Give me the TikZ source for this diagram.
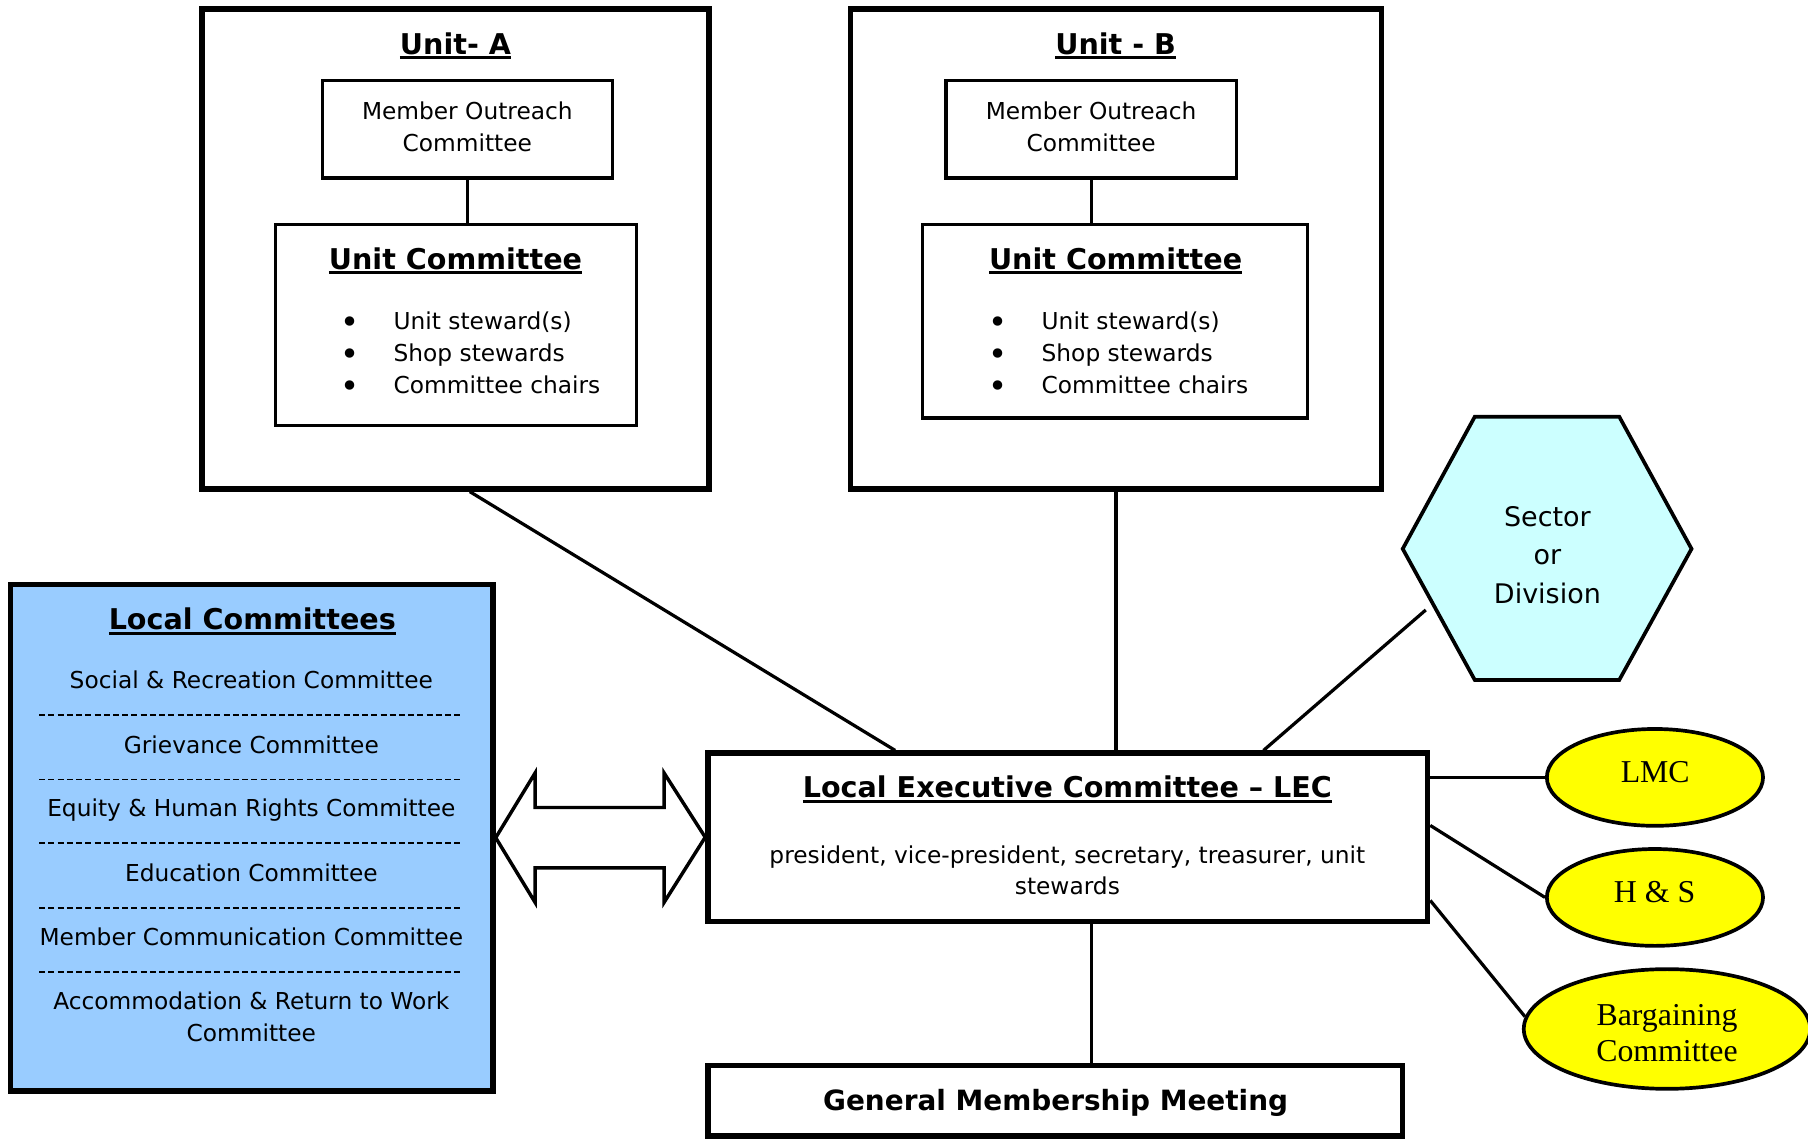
\documentclass[tikz,border=0pt]{standalone}
\usepackage{fontspec}
\setmainfont{DejaVu Sans}
\newfontfamily\timesf{Liberation Serif}
\usetikzlibrary{calc,shapes.geometric}
\definecolor{lcblue}{HTML}{99CCFF}
\definecolor{hexcyan}{HTML}{CCFFFF}
\definecolor{elyellow}{HTML}{FFFF00}
\newcommand\bodyf{\fontsize{10.1}{12}\selectfont}
\newcommand\ttlf{\fontsize{12.4}{15}\selectfont\bfseries}
\newcommand\hexf{\fontsize{11.7}{14}\selectfont}
\newcommand\elf{\timesf\fontsize{13.8}{16}\selectfont}
\newcommand\myul[1]{\setbox0\hbox{#1}\rlap{\rule[-2.1pt]{\wd0}{1.4pt}}\box0}
\begin{document}
\begin{tikzpicture}[x=0.5pt,y=-0.5pt,
  outer/.style={draw, line width=2.4pt, inner sep=0pt},
  inner/.style={draw, line width=1.4pt, inner sep=0pt},
  conn/.style={line width=1.4pt},
  txt/.style={inner sep=0pt, anchor=base, font=\bodyf},
  bul/.style={inner sep=0pt, anchor=base, font=\fontsize{14}{14}\selectfont},
  ttl/.style={inner sep=0pt, anchor=base, font=\ttlf},
  hext/.style={inner sep=0pt, anchor=base, font=\hexf},
  etxt/.style={inner sep=0pt, anchor=base, font=\elf},
  ell/.style={draw, ellipse, line width=1.6pt, fill=elyellow, inner sep=0pt},
  sep/.style={line width=0.6pt, dash pattern=on 2.6pt off 1.4pt},
  dblarrow/.style={draw, fill=white, line width=1.5pt, line join=miter}]

\fill[white] (0,0) rectangle (1568,988);
\useasboundingbox (0,0) rectangle (1568,988);

% ---------- Unit A ----------
\node[outer, minimum width=220pt, minimum height=208pt] (unitA) at (395,216) {};
\node[ttl] (titleA) at (395,47.3) {\myul{Unit- A}};
\node[inner, minimum width=125.5pt, minimum height=42.2pt] (moA) at (405.5,112.2) {};
\node[txt] (moA1) at (405.3,104) {Member Outreach};
\node[txt] (moA2) at (405.3,131.8) {Committee};
\node[inner, minimum width=156.5pt, minimum height=87pt] (ucA) at (395.5,281.8) {};
\node[ttl] (ucAt) at (395,233.3) {\myul{Unit Committee}};
\node[bul] (ucAb1) at (303.5,289) {•};
\node[bul] (ucAb2) at (303.5,316.7) {•};
\node[bul] (ucAb3) at (303.5,344.4) {•};
\node[txt, anchor=base west] (ucAi1) at (341,285.5) {Unit steward(s)};
\node[txt, anchor=base west] (ucAi2) at (341,313.2) {Shop stewards};
\node[txt, anchor=base west] (ucAi3) at (341,340.9) {Committee chairs};
\draw[conn] (moA.south) -- (moA.south |- ucA.north);

% ---------- Unit B ----------
\node[outer, minimum width=230.25pt, minimum height=208pt] (unitB) at (967.75,216) {};
\node[ttl] (titleB) at (967.5,47.3) {\myul{Unit - B}};
\node[inner, minimum width=126pt, minimum height=42.2pt] (moB) at (946.5,112.2) {};
\node[txt] (moB1) at (946.3,104) {Member Outreach};
\node[txt] (moB2) at (946.3,131.8) {Committee};
\node[inner, minimum width=167pt, minimum height=83.85pt] (ucB) at (967,278.65) {};
\node[ttl] (ucBt) at (967.5,233.3) {\myul{Unit Committee}};
\node[bul] (ucBb1) at (865.5,289) {•};
\node[bul] (ucBb2) at (865.5,316.7) {•};
\node[bul] (ucBb3) at (865.5,344.4) {•};
\node[txt, anchor=base west] (ucBi1) at (903,285.5) {Unit steward(s)};
\node[txt, anchor=base west] (ucBi2) at (903,313.2) {Shop stewards};
\node[txt, anchor=base west] (ucBi3) at (903,340.9) {Committee chairs};
\draw[conn] (moB.south) -- (moB.south |- ucB.north);

% ---------- Sector or Division ----------
\draw[line width=1.6pt, fill=hexcyan, line join=miter]
  (1279,361.4) -- (1404.3,361.4) -- (1467,476) -- (1404.3,589.7) -- (1279,589.7) -- (1216.5,476) -- cycle;
\node[hext] (hex1) at (1342,456.2) {Sector};
\node[hext] (hex2) at (1342,490) {or};
\node[hext] (hex3) at (1342,523.2) {Division};
\coordinate (hexlink) at (1236.5,529);

% ---------- Local Committees ----------
\node[outer, fill=lcblue, minimum width=209.25pt, minimum height=219.5pt] (lc) at (218.25,726.5) {};
\node[ttl] (lct) at (218.8,546.3) {\myul{Local Committees}};
\node[txt] (lc1) at (218,596.7) {Social \& Recreation Committee};
\node[txt] (lc2) at (218,653.2) {Grievance Committee};
\node[txt] (lc3) at (218,708.3) {Equity \& Human Rights Committee};
\node[txt] (lc4) at (218,764.3) {Education Committee};
\node[txt] (lc5) at (218,820) {Member Communication Committee};
\node[txt] (lc6) at (218,875.9) {Accommodation \& Return to Work};
\node[txt] (lc7) at (218,903.4) {Committee};
\foreach \yy in {620.2,675.9,731,787.6,842.9}
  \draw[sep] (34,\yy) -- (401,\yy);

% ---------- LEC ----------
\node[outer, minimum width=312pt, minimum height=72.9pt] (lec) at (926,726.1) {};
\node[ttl] (lect) at (925.7,692) {\myul{Local Executive Committee – LEC}};
\node[txt] (lec1) at (925.7,749.2) {president, vice-president, secretary, treasurer, unit};
\node[txt] (lec2) at (925.7,776) {stewards};

% ---------- double arrow ----------
\draw[dblarrow] (lc.east) -- (464,670.5) -- (464,700.3) -- (576,700.3) -- (576,670.5)
  -- (lec.west) -- (576,782.5) -- (576,752.7) -- (464,752.7) -- (464,782.5) -- cycle;

% ---------- GMM ----------
\node[outer, minimum width=301.25pt, minimum height=30.55pt] (gmm) at (915.25,954.45) {};
\node[ttl, font=\fontsize{12.1}{14}\selectfont\bfseries] (gmmt) at (915.5,963.2) {General Membership Meeting};

% ---------- ellipses ----------
\node[ell, minimum width=93.75pt, minimum height=42pt] (lmc) at (1435.25,674.2) {};
\node[etxt] (lmct) at (1435.5,678.4) {LMC};
\node[ell, minimum width=93.75pt, minimum height=42pt] (hs) at (1435.25,778.3) {};
\node[etxt] (hst) at (1435,782.3) {H \& S};
\node[ell, minimum width=124.2pt, minimum height=51.9pt] (barg) at (1445.7,892.4) {};
\node[etxt] (barg1) at (1445.7,889) {Bargaining};
\node[etxt] (barg2) at (1445.7,920.7) {Committee};

% ---------- connectors ----------
\draw[conn] ($(unitA.south west)!0.528!(unitA.south east)$) -- ($(lec.north west)!0.262!(lec.north east)$);
\draw[conn] (unitB.south) -- (unitB.south |- lec.north);
\draw[conn] (hexlink) -- ($(lec.north west)!0.770!(lec.north east)$);
\draw[conn] (lmc.west -| lec.east) -- (lmc.west);
\draw[conn] ($(lec.north east)!0.432!(lec.south east)$) -- (hs.west);
\draw[conn] ($(lec.north east)!0.864!(lec.south east)$) -- (barg.175);
\coordinate (lg) at ($(lec.south west)!0.533!(lec.south east)$);
\draw[conn] (lg) -- (lg |- gmm.north);
\end{tikzpicture}
\end{document}
